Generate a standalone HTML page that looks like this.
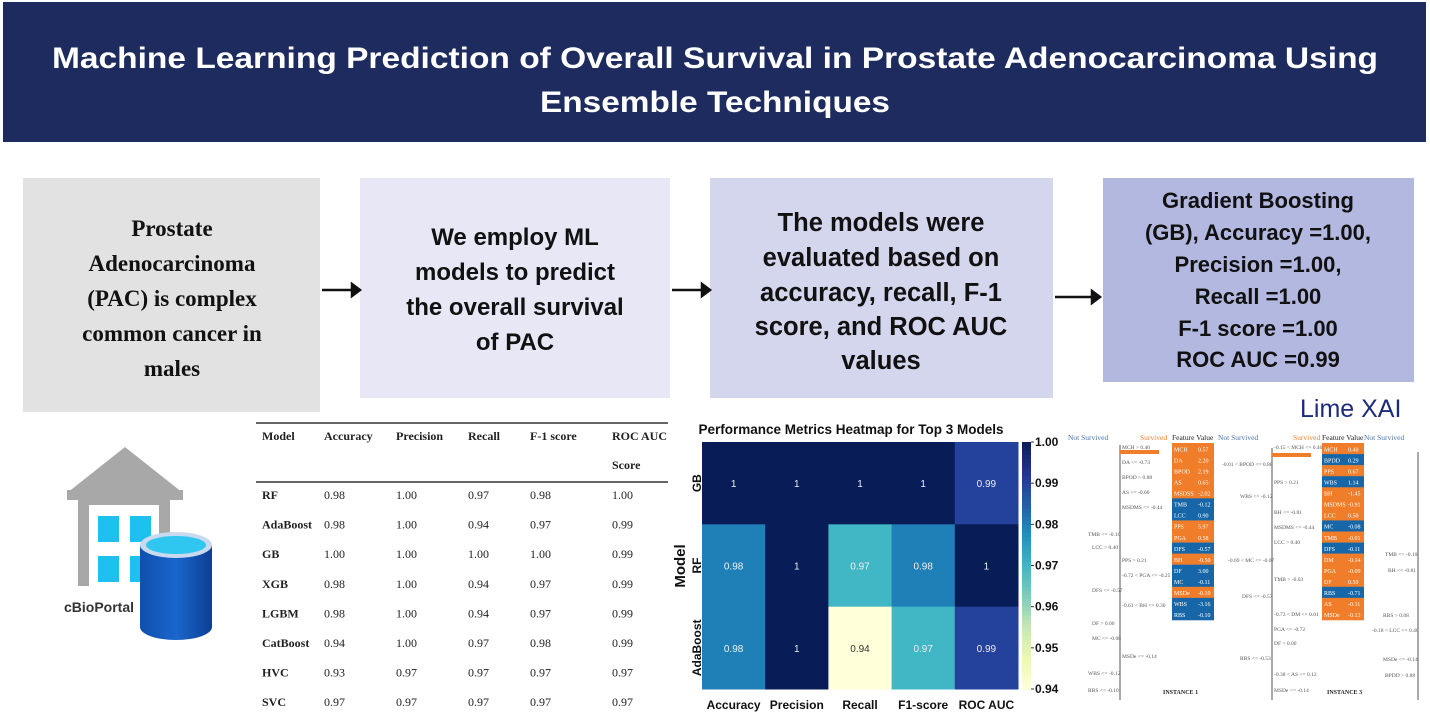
<!DOCTYPE html>
<html><head><meta charset="utf-8"><style>
html,body{margin:0;padding:0;background:#fff;}
svg{display:block;}
.sans{font-family:"Liberation Sans",sans-serif;}
.serif{font-family:"Liberation Serif",serif;}
</style></head><body>
<svg id="root" width="1430" height="715" viewBox="0 0 1430 715" xmlns="http://www.w3.org/2000/svg">
<rect width="1430" height="715" fill="#fff"/>
<!-- header -->
<g>
<rect x="3" y="2" width="1423" height="140" fill="#1d2b5e"/>
<text class="sans" x="52" y="68" font-size="30" font-weight="bold" fill="#fff" textLength="1326" lengthAdjust="spacingAndGlyphs">Machine Learning Prediction of Overall Survival in Prostate Adenocarcinoma Using</text>
<text class="sans" x="540" y="112" font-size="30" font-weight="bold" fill="#fff" textLength="350" lengthAdjust="spacingAndGlyphs">Ensemble Techniques</text>
</g>
<!-- flow boxes -->
<g>
<rect x="23" y="178" width="297" height="234" fill="#e2e2e2"/>
<g class="serif" font-size="23" font-weight="bold" fill="#111" text-anchor="middle">
<text x="172" y="236">Prostate</text><text x="172" y="271">Adenocarcinoma</text><text x="172" y="306">(PAC) is complex</text><text x="172" y="341">common cancer in</text><text x="172" y="376">males</text></g>
</g>
<g>
<rect x="360" y="178" width="310" height="220" fill="#e7e7f6"/>
<g class="sans" font-size="24" font-weight="bold" fill="#111" text-anchor="middle">
<text x="515" y="245">We employ ML</text><text x="515" y="280">models to predict</text><text x="515" y="315">the overall survival</text><text x="515" y="350">of PAC</text></g>
</g>
<g>
<rect x="710" y="178" width="343" height="220" fill="#d3d6ed"/>
<g class="sans" font-size="25.5" font-weight="bold" fill="#111" text-anchor="middle">
<text x="881" y="231">The models were</text><text x="881" y="266">evaluated based on</text><text x="881" y="301">accuracy, recall, F-1</text><text x="881" y="335">score,  and ROC AUC</text><text x="881" y="369">values</text></g>
</g>
<g>
<rect x="1103" y="178" width="311" height="204" fill="#b3b8e0"/>
<g class="sans" font-size="22" font-weight="bold" fill="#111" text-anchor="middle">
<text x="1258" y="208">Gradient Boosting</text><text x="1258" y="240">(GB), Accuracy =1.00,</text><text x="1258" y="272">Precision =1.00,</text><text x="1258" y="304">Recall =1.00</text><text x="1258" y="336">F-1 score =1.00</text><text x="1258" y="367">ROC AUC =0.99</text></g>
</g>
<!-- arrows -->
<g stroke="#111" stroke-width="2.5" fill="#111">
<g><line x1="322" y1="290" x2="352" y2="290"/><polygon points="352,284 360,290 352,296"/></g>
<g><line x1="672" y1="290" x2="702" y2="290"/><polygon points="702,284 710,290 702,296"/></g>
<g><line x1="1055" y1="297" x2="1092" y2="297"/><polygon points="1092,291 1100,297 1092,303"/></g>
</g>
<!-- cBioPortal icon -->
<g>
<polygon points="125,447 67,493 183,493" fill="#a8a8a8"/>
<rect x="67" y="490" width="116" height="10" fill="#a8a8a8"/>
<rect x="78" y="500" width="92" height="86" fill="#a8a8a8"/>
<rect x="89" y="505" width="70" height="81" fill="#fff"/>
<rect x="98" y="516" width="21" height="26" fill="#1ec0ef"/><rect x="130" y="516" width="21" height="26" fill="#1ec0ef"/>
<rect x="98" y="556" width="21" height="26" fill="#1ec0ef"/><rect x="130" y="556" width="21" height="26" fill="#1ec0ef"/>
<defs><linearGradient id="cyl" x1="0" x2="1"><stop offset="0" stop-color="#0f4fae"/><stop offset="0.5" stop-color="#1a66cc"/><stop offset="1" stop-color="#0c3f94"/></linearGradient></defs>
<path d="M140,545 L140,627 A36,13 0 0 0 212,627 L212,545 Z" fill="url(#cyl)"/>
<ellipse cx="176" cy="545" rx="36" ry="13" fill="#c9d9ef"/>
<ellipse cx="176" cy="545" rx="30" ry="9" fill="#2fc7f0"/>
<text class="sans" x="64" y="612" font-size="14" font-weight="bold" fill="#333">cBioPortal</text>
</g>
<!-- table -->
<g id="table" class="serif" font-size="12" fill="#222">
<line x1="256" y1="423" x2="668" y2="423" stroke="#333" stroke-width="1.5"/>
<line x1="256" y1="482" x2="668" y2="482" stroke="#333" stroke-width="1.5"/>
</g>
<!-- heatmap -->
<g id="heatmap" class="sans">
<text x="851" y="434" font-size="13.5" font-weight="bold" text-anchor="middle" fill="#111">Performance Metrics Heatmap for Top 3 Models</text>
<text transform="translate(685,566) rotate(-90)" font-size="15" font-weight="bold" text-anchor="middle" fill="#111">Model</text>
</g>
<!-- Lime XAI -->
<g id="lime" class="serif">
<text class="sans" x="1300" y="417" font-size="25" fill="#1d2b7a">Lime XAI</text>
</g>
</svg>
<script>
// ---- table data ----
const tableHeaders = ["Model","Accuracy","Precision","Recall","F-1 score","ROC AUC"];
const tableModels = ["RF","AdaBoost","GB","XGB","LGBM","CatBoost","HVC","SVC"];
const tableAccuracy = ["0.98","0.98","1.00","0.98","0.98","0.94","0.93","0.97"];
const tablePrecision = ["1.00","1.00","1.00","1.00","1.00","1.00","0.97","0.97"];
const tableRecall = ["0.97","0.94","1.00","0.94","0.94","0.97","0.97","0.97"];
const tableF1 = ["0.98","0.97","1.00","0.97","0.97","0.98","0.97","0.97"];
const tableRoc = ["1.00","0.99","0.99","0.99","0.99","0.99","0.97","0.97"];
// ---- heatmap data ----
const hmModels = ["GB","RF","AdaBoost"];
const hmMetrics = ["Accuracy","Precision","Recall","F1-score","ROC AUC"];
const hmGB = [1, 1, 1, 1, 0.99];
const hmRF = [0.98, 1, 0.97, 0.98, 1];
const hmAda = [0.98, 1, 0.94, 0.97, 0.99];
const hmTicks = [1.00, 0.99, 0.98, 0.97, 0.96, 0.95, 0.94];
// ---- lime data ----
const lime1Colors = ["o","o","o","o","o","b","b","o","o","b","o","b","b","o","b","b"];
const lime1Names = ["MCH","DA","BPOD","AS","MSDSS","TMB","LCC","PPS","PGA","DFS","BH","DF","MC","MSDe","WBS","RBS"];
const lime1Vals = ["0.57","2.20","2.19","0.65","-2.02","-0.12","0.90","5.97","0.58","-0.57","-0.50","3.00","-0.11","-0.10","-3.16","-0.10"];
const lime2Colors = ["o","b","o","b","o","o","o","b","o","b","o","o","o","b","o","o"];
const lime2Names = ["MCH","BPDD","PPS","WBS","BH","MSDMS","LCC","MC","TMB","DFS","DM","PGA","DF","RBS","AS","MSDe"];
const lime2Vals = ["0.40","0.29","0.67","1.14","-1.45","-0.91","0.50","-0.08","-0.01","-0.11","-0.14","-0.09","0.59","-0.71","-0.11","-0.13"];

const NS = "http://www.w3.org/2000/svg";
function mk(tag, attrs, parent, txt){
  const e = document.createElementNS(NS, tag);
  for (const k in attrs) e.setAttribute(k, attrs[k]);
  if (txt !== undefined) e.textContent = txt;
  parent.appendChild(e); return e;
}
// table
const tbl = document.getElementById('table');
const colX = [262,324,396,468,530,612];
tableHeaders.forEach((h,i)=>{
  const t = mk('text',{x:colX[i],y:440,'font-weight':'bold'},tbl,h);
  
  
});
const sc = mk('text',{x:612,y:469,'font-weight':'bold'},tbl,"Score");


const cols = [tableModels,tableAccuracy,tablePrecision,tableRecall,tableF1,tableRoc];
tableModels.forEach((m,r)=>{
  const y = 499 + r*29.6;
  cols.forEach((c,i)=>{
    const t = mk('text',{x:colX[i],y:y,'font-weight':i===0?'bold':'normal'},tbl,c[r]);
    
    
  });
});
// heatmap
const hm = document.getElementById('heatmap');
const stops = ["#ffffd9","#edf8b1","#c7e9b4","#7fcdbb","#41b6c4","#1d91c0","#225ea8","#253494","#081d58"];
function hex(c){return [1,3,5].map(i=>parseInt(c.substr(i,2),16));}
function cmap(t){
  t=Math.max(0,Math.min(1,t)); const p=t*(stops.length-1); const i=Math.min(stops.length-2,Math.floor(p)); const f=p-i;
  const a=hex(stops[i]), b=hex(stops[i+1]);
  return "rgb("+a.map((v,k)=>Math.round(v+(b[k]-v)*f)).join(",")+")";
}
const vmin=0.94, vmax=1.00;
const hx0=702, hx1=1018, hy0=442, hy1=689;
const cw=(hx1-hx0)/hmMetrics.length, ch=(hy1-hy0)/hmModels.length;
const xPos = j => hx0 + j*cw;
const yPos = i => hy0 + i*ch;
const norm = v => (v-vmin)/(vmax-vmin);
const rows=[hmGB,hmRF,hmAda];
rows.forEach((row,i)=>{
  row.forEach((v,j)=>{
    const r = mk('rect',{x:xPos(j),y:yPos(i),width:cw+0.5,height:ch+0.5,fill:cmap(norm(v))},hm);
    
    
    const t = mk('text',{x:xPos(j)+cw/2,y:yPos(i)+ch/2+4,'font-size':10,'text-anchor':'middle',fill:norm(v)<0.3?'#333':'#eee'},hm,String(v));
    
    
  });
});
hmMetrics.forEach((m,j)=>{
  const t = mk('text',{x:xPos(j)+cw/2,y:709,'font-size':12,'font-weight':'bold','text-anchor':'middle',fill:'#111'},hm,m);
  
  
});
hmModels.forEach((m,i)=>{
  const cy=yPos(i)+ch/2;
  const t = mk('text',{transform:'translate(701,'+cy+') rotate(-90)','font-size':12,'font-weight':'bold','text-anchor':'middle',fill:'#111'},hm,m);
  
  
});
// colorbar
const cbx=1022, cbw=9;
const cbY = v => hy1 - norm(v)*(hy1-hy0);
for(let k=0;k<60;k++){
  const v0 = vmin + (vmax-vmin)*k/60, v1 = vmin + (vmax-vmin)*(k+1)/60;
  const r = mk('rect',{x:cbx,y:cbY(v1),width:cbw,height:cbY(v0)-cbY(v1)+0.6,fill:cmap(norm((v0+v1)/2))},hm);
  
  
}
hmTicks.forEach(v=>{
  const y=cbY(v);
  mk('line',{x1:cbx+cbw,y1:y,x2:cbx+cbw+3,y2:y,stroke:'#333'},hm);
  const t = mk('text',{x:cbx+cbw+4,y:y+4,'font-size':12,'font-weight':'bold',fill:'#111'},hm,v.toFixed(2));
  
  
});
// lime
const lime = document.getElementById('lime');
function limeTable(x0, colors, names, vals){
  const rh = 177/colors.length;
  colors.forEach((c,i)=>{
    const r = mk('rect',{x:x0,y:443+i*rh,width:42,height:rh+0.3,fill:c==='o'?'#f07d2a':'#1767a8'},lime);
    
    
    mk('text',{x:x0+2,y:443+i*rh+rh*0.75,'font-size':6,fill:'#fff'},lime,names[i]);
    mk('text',{x:x0+26,y:443+i*rh+rh*0.75,'font-size':6,fill:'#fff'},lime,vals[i]);
  });
}
limeTable(1172, lime1Colors, lime1Names, lime1Vals);
limeTable(1322, lime2Colors, lime2Names, lime2Vals);
[[1068,"Not Survived","#4a74b0"],[1140,"Survived","#f07d2a"],[1172,"Feature Value","#222"],[1218,"Not Survived","#4a74b0"],
 [1293,"Survived","#f07d2a"],[1322,"Feature Value","#222"],[1364,"Not Survived","#4a74b0"]].forEach(h=>{
  const t=mk('text',{x:h[0],y:440,'font-size':7.5,fill:h[2]},lime,h[1]);
  
  
});
[[1120,445,700],[1272,448,700],[1418,452,700]].forEach(a=>{
  const l=mk('line',{x1:a[0],y1:a[1],x2:a[0],y2:a[2],stroke:'#555','stroke-width':1},lime);
  
  
});
mk('rect',{x:1120,y:450,width:39,height:4,fill:'#f07d2a'},lime);
mk('rect',{x:1272,y:453,width:39,height:4,fill:'#f07d2a'},lime);
const sl = [[1122,449,"MCH > 0.40"],[1122,464,"DA <= -0.73"],[1122,479,"BPOD > 0.88"],[1122,494,"AS <= -0.60"],[1122,509,"MSDMS <= -0.44"],
 [1088,536,"TMB <= -0.10"],[1092,549,"LCC > 0.40"],[1122,562,"PPS > 0.21"],[1122,577,"-0.72 < PGA <= -0.25"],[1092,592,"DFS <= -0.57"],
 [1122,607,"-0.61 < BH <= 0.30"],[1092,625,"DF > 0.00"],[1092,640,"MC <= -0.08"],[1122,658,"MSDe <= -0.14"],[1088,675,"WBS <= -0.12"],[1088,692,"RBS <= -0.10"],
 [1274,449,"-0.15 < MCH <= 0.40"],[1222,466,"-0.01 < BPOD <= 0.88"],[1274,484,"PPS > 0.21"],[1240,498,"WBS <= -0.12"],[1274,514,"BH <= -0.81"],
 [1274,529,"MSDMS <= -0.44"],[1274,544,"LCC > 0.40"],[1228,562,"-0.69 < MC <= -0.07"],[1274,581,"TMB > -0.03"],[1242,598,"DFS <= -0.57"],
 [1274,616,"-0.73 < DM <= 0.01"],[1274,631,"PGA <= -0.72"],[1274,645,"DF > 0.00"],[1240,660,"RBS <= -0.53"],[1274,676,"-0.38 < AS <= 0.12"],[1274,692,"MSDe <= -0.14"],
 [1385,556,"TMB <= -0.10"],[1388,572,"BH <= -0.81"],[1383,617,"RBS > 0.08"],[1372,632,"-0.18 < LCC <= 0.40"],[1383,661,"MSDe <= -0.14"],[1385,677,"BPDD > 0.88"]];
sl.forEach(s=>{ mk('text',{x:s[0],y:s[1],'font-size':5.5,fill:'#555'},lime,s[2]); });
const i1=mk('text',{x:1163,y:694,'font-size':6,'font-weight':'bold',fill:'#222'},lime,"INSTANCE 1");


const i3=mk('text',{x:1327,y:694,'font-size':6,'font-weight':'bold',fill:'#222'},lime,"INSTANCE 3");


</script>
</body></html>
